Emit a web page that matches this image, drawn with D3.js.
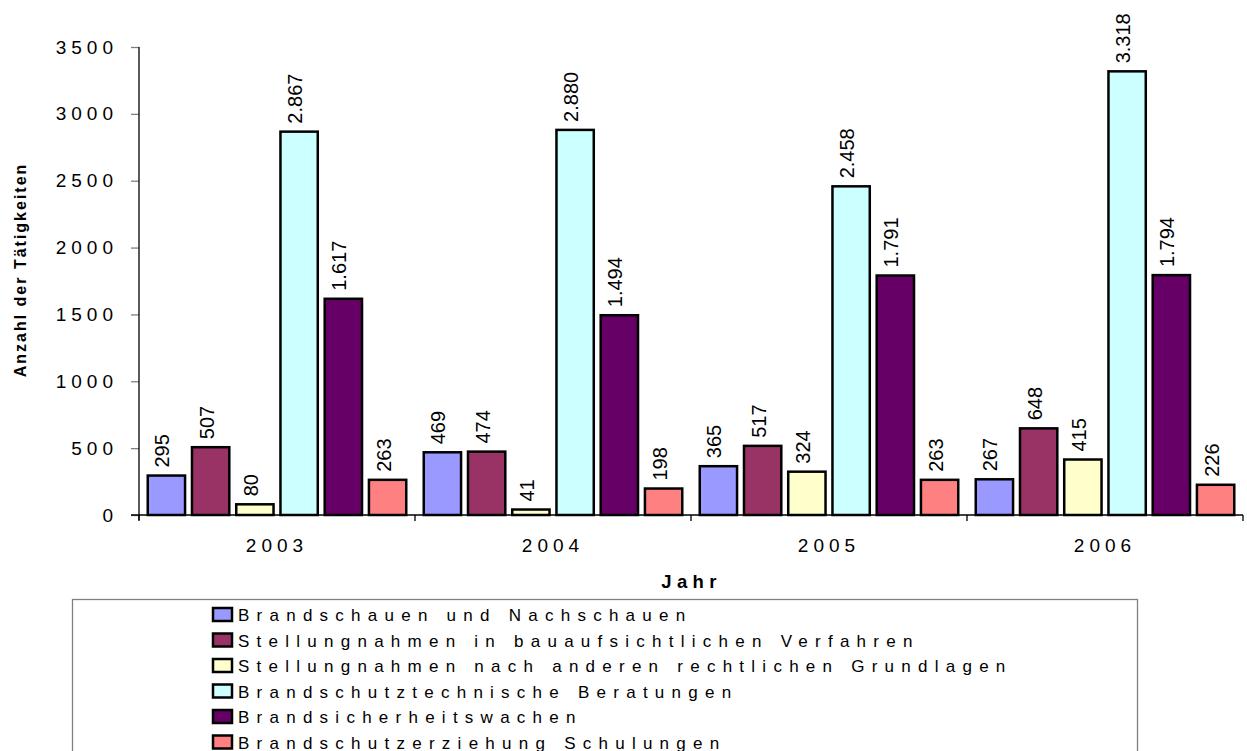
<!DOCTYPE html>
<html>
<head>
<meta charset="utf-8">
<script src="https://cdn.jsdelivr.net/npm/d3@7"></script>
<style>
  body { margin: 0; background: #fff; }
  text { font-family: "Liberation Sans", Arial, sans-serif; }
</style>
</head>
<body>
<svg id="chart" width="1247" height="751"></svg>
<script>
// data
var years = ["2003", "2004", "2005", "2006"];
var series = [
  "Brandschauen und Nachschauen",
  "Stellungnahmen in bauaufsichtlichen Verfahren",
  "Stellungnahmen nach anderen rechtlichen Grundlagen",
  "Brandschutztechnische Beratungen",
  "Brandsicherheitswachen",
  "Brandschutzerziehung Schulungen"
];
var colors = ["#9999FF", "#993366", "#FFFFCC", "#CCFFFF", "#660066", "#FF8080"];
// values per series, one per year
var brandschauen = [295, 469, 365, 267];
var stellungBau = [507, 474, 517, 648];
var stellungAndere = [80, 41, 324, 415];
var beratungen = [2867, 2880, 2458, 3318];
var wachen = [1617, 1494, 1791, 1794];
var schulungen = [263, 198, 263, 226];
var yTicks = [0, 500, 1000, 1500, 2000, 2500, 3000, 3500];

var values = [brandschauen, stellungBau, stellungAndere, beratungen, wachen, schulungen];

var svg = d3.select("#chart"),
    margin = {top: 47, right: 4, bottom: 236, left: 139},
    width = +svg.attr("width") - margin.left - margin.right,
    height = +svg.attr("height") - margin.top - margin.bottom,
    g = svg.append("g").attr("transform", "translate(" + margin.left + "," + margin.top + ")");

// german number format for the labels
var de = d3.formatLocale({decimal: ",", thousands: ".", grouping: [3], currency: ["", "€"]});
var fmt = de.format(",d");

// scales
var x0 = d3.scaleBand().domain(years).range([0, width]);
var x1 = d3.scaleBand().domain(d3.range(series.length))
    .range([7.5, x0.bandwidth() - 7.5]).paddingInner(0.1);
var y = d3.scaleLinear().domain([0, 3500]).range([height, 0]);

var sw = 2.5;

// bars
var groups = g.selectAll(".year")
  .data(years)
  .enter().append("g")
    .attr("class", "year")
    .attr("transform", function(d) { return "translate(" + x0(d) + ",0)"; });

groups.selectAll("rect")
  .data(function(d, i) { return values.map(function(v, s) { return {s: s, v: v[i]}; }); })
  .enter().append("rect")
    .attr("x", function(d) { return x1(d.s) + sw / 2; })
    .attr("width", x1.bandwidth() - sw)
    .attr("y", function(d) { return y(d.v); })
    .attr("height", function(d) { return height - y(d.v); })
    .attr("fill", function(d) { return colors[d.s]; })
    .attr("stroke", "#000")
    .attr("stroke-width", sw);

// value labels, rotated
groups.selectAll(".lbl")
  .data(function(d, i) { return values.map(function(v, s) { return {s: s, v: v[i]}; }); })
  .enter().append("text")
    .attr("class", "lbl")
    .attr("transform", function(d) {
      return "translate(" + (x1(d.s) + x1.bandwidth() / 2) + "," + (y(d.v) - 8) + ") rotate(-90)";
    })
    .attr("dy", "0.15em")
    .attr("font-size", 20)
    .attr("fill", "#000")
    .text(function(d) { return fmt(d.v); });

// y axis
var yAxis = d3.axisLeft(y).tickValues(yTicks).tickSize(8).tickPadding(13).tickFormat(d3.format("d"));
g.append("g").call(function(a) {
  a.call(yAxis);
  a.select(".domain").remove();
  a.selectAll(".tick line").attr("stroke", "#808080").attr("stroke-width", 1.3);
  a.selectAll(".tick text").attr("font-size", 19).attr("letter-spacing", "5px")
    .attr("fill", "#000").attr("font-family", "Liberation Sans, Arial, sans-serif");
});
g.append("line").attr("x1", 0).attr("x2", 0).attr("y1", 0).attr("y2", height + 5)
  .attr("stroke", "#000").attr("stroke-width", 1.3);

// x axis
g.append("line").attr("x1", -8).attr("x2", width).attr("y1", height).attr("y2", height)
  .attr("stroke", "#000").attr("stroke-width", 1.3);
g.selectAll(".xtick")
  .data(years.concat(["end"]))
  .enter().append("line")
    .attr("x1", function(d, i) { return i * x0.step(); })
    .attr("x2", function(d, i) { return i * x0.step(); })
    .attr("y1", height).attr("y2", height + 6)
    .attr("stroke", "#000").attr("stroke-width", 1.3);
g.selectAll(".xlbl")
  .data(years)
  .enter().append("text")
    .attr("x", function(d) { return x0(d) + x0.bandwidth() / 2; })
    .attr("y", height + 37)
    .attr("text-anchor", "middle")
    .attr("font-size", 19)
    .attr("letter-spacing", "5px")
    .text(function(d) { return d; });

// axis titles
svg.append("text")
  .attr("transform", "translate(26,270) rotate(-90)")
  .attr("text-anchor", "middle")
  .attr("font-size", 16)
  .attr("font-weight", "bold")
  .attr("letter-spacing", "2px")
  .text("Anzahl der Tätigkeiten");
svg.append("text")
  .attr("x", 691.5)
  .attr("y", 588)
  .attr("text-anchor", "middle")
  .attr("font-size", 18.5)
  .attr("font-weight", "bold")
  .attr("letter-spacing", "5.3px")
  .text("Jahr");

// legend
svg.append("rect")
  .attr("x", 72.5).attr("y", 599.5)
  .attr("width", 1065).attr("height", 200)
  .attr("fill", "none").attr("stroke", "#808080").attr("stroke-width", 1.3);
var leg = svg.selectAll(".leg")
  .data(series)
  .enter().append("g")
    .attr("class", "leg")
    .attr("transform", function(d, i) { return "translate(212," + (614.5 + i * 25.5) + ")"; });
leg.append("rect")
  .attr("x", 1).attr("y", -6.5).attr("width", 19).attr("height", 13)
  .attr("fill", function(d, i) { return colors[i]; })
  .attr("stroke", "#000").attr("stroke-width", 2.5);
leg.append("text")
  .attr("x", 26).attr("y", 6.5)
  .attr("font-size", 17)
  .attr("letter-spacing", "7.25px")
  .text(function(d) { return d; });
</script>
</body>
</html>
